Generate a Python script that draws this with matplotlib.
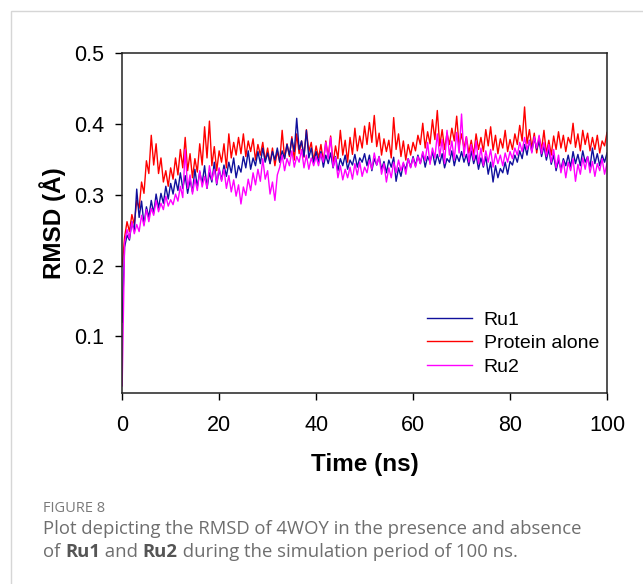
import numpy as np
import matplotlib.pyplot as plt
from matplotlib.patches import Rectangle

# time grid (ns): first frame, then every 0.5 ns
time_ns = np.concatenate([[0.0], np.arange(0.5, 100.01, 0.5)])

# RMSD values (Angstrom)
protein_alone = [0.200,
    0.240,0.262,0.248,0.272,0.258,0.292,0.281,0.318,0.302,0.348,0.330,0.384,0.342,0.372,0.330,0.352,0.318,0.334,0.312,0.338,
    0.322,0.352,0.328,0.364,0.338,0.381,0.334,0.358,0.324,0.351,0.332,0.372,0.342,0.396,0.352,0.404,0.341,0.368,0.334,0.362,
    0.346,0.372,0.338,0.386,0.352,0.374,0.356,0.381,0.358,0.386,0.354,0.376,0.361,0.379,0.349,0.371,0.356,0.374,0.348,0.366,
    0.344,0.366,0.341,0.362,0.346,0.391,0.351,0.372,0.354,0.382,0.349,0.386,0.358,0.376,0.353,0.392,0.361,0.374,0.348,0.369,
    0.352,0.371,0.346,0.376,0.354,0.383,0.344,0.369,0.351,0.391,0.356,0.377,0.346,0.381,0.357,0.394,0.362,0.383,0.366,0.397,
    0.371,0.402,0.374,0.412,0.368,0.387,0.356,0.379,0.361,0.377,0.352,0.409,0.364,0.386,0.354,0.376,0.349,0.371,0.356,0.374,
    0.362,0.384,0.371,0.401,0.366,0.389,0.372,0.406,0.378,0.419,0.369,0.392,0.364,0.387,0.371,0.394,0.376,0.411,0.368,0.386,
    0.366,0.382,0.359,0.377,0.356,0.386,0.364,0.381,0.361,0.392,0.369,0.396,0.363,0.384,0.358,0.379,0.366,0.391,0.361,0.378,
    0.364,0.386,0.371,0.398,0.376,0.424,0.372,0.392,0.366,0.387,0.359,0.382,0.364,0.391,0.358,0.377,0.356,0.383,0.364,0.389,
    0.366,0.384,0.361,0.381,0.372,0.401,0.367,0.386,0.362,0.391,0.371,0.387,0.362,0.381,0.364,0.384,0.359,0.376,0.369,0.388]

ru1 = [0.120,
    0.226,0.243,0.236,0.262,0.249,0.308,0.268,0.291,0.258,0.283,0.268,0.292,0.274,0.301,0.281,0.302,0.288,0.312,0.294,0.316,
    0.301,0.322,0.306,0.331,0.309,0.327,0.302,0.321,0.304,0.336,0.311,0.332,0.316,0.341,0.309,0.331,0.318,0.346,0.314,0.336,
    0.321,0.342,0.326,0.346,0.331,0.352,0.324,0.341,0.332,0.354,0.338,0.362,0.336,0.352,0.341,0.361,0.344,0.366,0.346,0.359,
    0.344,0.361,0.349,0.366,0.346,0.362,0.351,0.371,0.356,0.379,0.361,0.408,0.364,0.376,0.354,0.391,0.352,0.366,0.344,0.361,
    0.346,0.361,0.339,0.356,0.344,0.359,0.338,0.354,0.334,0.351,0.341,0.356,0.336,0.349,0.342,0.357,0.339,0.352,0.346,0.358,
    0.341,0.356,0.334,0.351,0.342,0.354,0.336,0.347,0.331,0.349,0.339,0.353,0.319,0.338,0.326,0.344,0.336,0.351,0.339,0.354,
    0.341,0.356,0.344,0.359,0.339,0.354,0.346,0.361,0.342,0.357,0.344,0.358,0.338,0.351,0.346,0.362,0.341,0.356,0.347,0.361,
    0.346,0.357,0.341,0.362,0.344,0.356,0.336,0.352,0.339,0.354,0.329,0.346,0.318,0.341,0.324,0.337,0.331,0.346,0.329,0.347,
    0.342,0.356,0.346,0.362,0.351,0.371,0.356,0.377,0.361,0.381,0.364,0.376,0.354,0.369,0.349,0.364,0.343,0.356,0.334,0.349,
    0.336,0.351,0.341,0.356,0.339,0.361,0.344,0.357,0.341,0.362,0.346,0.354,0.339,0.366,0.344,0.358,0.341,0.356,0.346,0.359]

ru2 = [0.030,
    0.232,0.251,0.238,0.262,0.245,0.258,0.248,0.271,0.256,0.279,0.262,0.281,0.271,0.292,0.276,0.288,0.279,0.298,0.284,0.293,
    0.286,0.301,0.291,0.312,0.296,0.364,0.309,0.328,0.301,0.322,0.306,0.334,0.311,0.326,0.309,0.341,0.321,0.336,0.316,0.338,
    0.319,0.336,0.309,0.327,0.304,0.321,0.298,0.314,0.287,0.311,0.299,0.322,0.306,0.331,0.314,0.336,0.319,0.351,0.322,0.334,
    0.301,0.318,0.292,0.328,0.339,0.356,0.334,0.351,0.341,0.362,0.339,0.354,0.346,0.364,0.338,0.356,0.336,0.352,0.341,0.354,
    0.341,0.358,0.346,0.374,0.351,0.381,0.339,0.353,0.324,0.341,0.321,0.336,0.324,0.339,0.322,0.344,0.328,0.346,0.326,0.339,
    0.331,0.349,0.336,0.359,0.342,0.354,0.329,0.344,0.318,0.338,0.324,0.346,0.331,0.349,0.334,0.346,0.329,0.351,0.338,0.352,
    0.339,0.354,0.344,0.361,0.348,0.374,0.343,0.366,0.352,0.386,0.354,0.378,0.344,0.391,0.356,0.376,0.349,0.388,0.359,0.414,
    0.354,0.382,0.346,0.371,0.349,0.376,0.344,0.366,0.341,0.362,0.346,0.364,0.339,0.358,0.344,0.356,0.341,0.359,0.346,0.361,
    0.351,0.366,0.356,0.374,0.361,0.381,0.364,0.376,0.359,0.382,0.366,0.384,0.358,0.374,0.354,0.371,0.346,0.364,0.338,0.356,
    0.331,0.348,0.324,0.346,0.334,0.351,0.319,0.343,0.329,0.352,0.336,0.354,0.331,0.347,0.326,0.344,0.334,0.351,0.329,0.344]

x_ticks = [0, 20, 40, 60, 80, 100]
y_ticks = [0.1, 0.2, 0.3, 0.4, 0.5]

plt.rcParams['font.family'] = ['Liberation Sans', 'DejaVu Sans']

fig = plt.figure(figsize=(6.43, 5.84), dpi=100)
ax = fig.add_axes([0.190, 0.327, 0.754, 0.582])

# light frame round the figure panel
fig.patches.append(Rectangle((11 / 643, -0.1), 1.2, 1.1 - 11 / 584, transform=fig.transFigure,
                             fill=False, edgecolor='#d6d6d6', linewidth=1.0))

l_red, = ax.plot(time_ns, protein_alone, color='#ff0000', lw=1.0, label='Protein alone')
l_blue, = ax.plot(time_ns, ru1, color='#10109c', lw=1.0, label='Ru1')
l_mag, = ax.plot(time_ns, ru2, color='#ff00ff', lw=1.0, label='Ru2')

ax.set_xlim(0, 100)
ax.set_ylim(0.02, 0.5)
ax.set_xticks(x_ticks)
ax.set_yticks(y_ticks)
ax.set_yticklabels([f'{v:.1f}' for v in y_ticks])
ax.tick_params(direction='out', length=5, width=1, labelsize=15.5)
ax.tick_params(axis='x', pad=11)
ax.tick_params(axis='y', pad=8)
for s in ax.spines.values():
    s.set_linewidth(1.1)
    s.set_color('#222222')

ax.set_xlabel('Time (ns)', fontsize=17.5, fontweight='bold', labelpad=12)
ax.set_ylabel('RMSD (Å)', fontsize=17.5, fontweight='bold', labelpad=6)

leg = ax.legend([l_blue, l_red, l_mag], ['Ru1', 'Protein alone', 'Ru2'], loc='lower right',
                bbox_to_anchor=(1.02, 0.0), frameon=False, fontsize=14, handlelength=2.3,
                labelspacing=0.3, handletextpad=0.6)

# caption
cap_font = ['Open Sans', 'DejaVu Sans']
fig.text(43 / 643, 1 - 508 / 584, 'FIGURE 8', fontsize=10.5, color='#7a7a7a', family=cap_font, va='center')
fig.text(43 / 643, 1 - 529 / 584, 'Plot depicting the RMSD of 4WOY in the presence and absence',
         fontsize=13.3, color='#6e6e6e', family=cap_font, va='center')

# second caption line with bold words
fig.canvas.draw()
r = fig.canvas.get_renderer()
x = 43 / 643
y2 = 1 - 552 / 584
parts = [('of ', 'normal', '#6e6e6e'), ('Ru1', 'bold', '#555555'), (' and ', 'normal', '#6e6e6e'),
         ('Ru2', 'bold', '#555555'), (' during the simulation period of 100 ns.', 'normal', '#6e6e6e')]
for txt, wt, col in parts:
    t = fig.text(x, y2, txt, fontsize=13.3, color=col, family=cap_font, fontweight=wt, va='center')
    bb = t.get_window_extent(renderer=r)
    x += bb.width / fig.bbox.width

fig.savefig('out.png', dpi=100)
